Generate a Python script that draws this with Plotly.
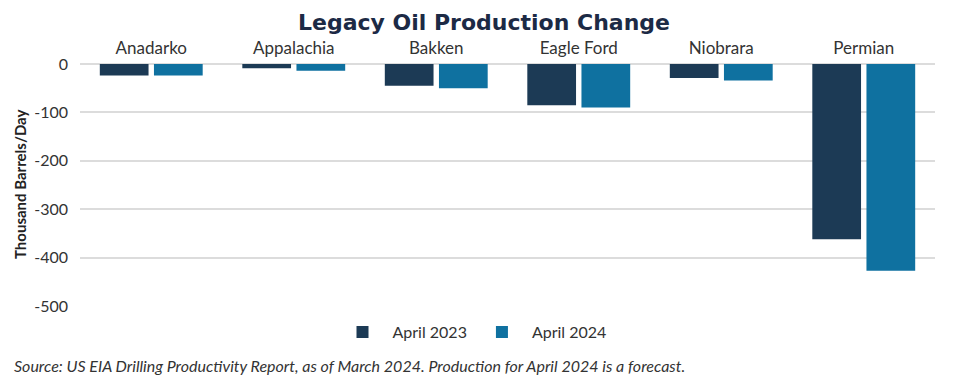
import plotly.graph_objects as go

basins = ["Anadarko", "Appalachia", "Bakken", "Eagle Ford", "Niobrara", "Permian"]
april_2023 = [-24, -9, -45, -85, -29, -362]
april_2024 = [-24, -14, -50, -90, -34, -427]
series_names = ["April 2023", "April 2024"]
y_ticks = [0, -100, -200, -300, -400, -500]

dark = "#1c3a55"
light = "#0f71a0"

fig = go.Figure()
fig.add_trace(go.Bar(x=basins, y=april_2023, name=series_names[0], marker=dict(color=dark, line=dict(width=0))))
fig.add_trace(go.Bar(x=basins, y=april_2024, name=series_names[1], marker=dict(color=light, line=dict(width=0))))

# page body has an 8px default margin; work in reference pixel coords minus 8
OFF = 8
W, H = 960 - OFF, 389 - OFF
L, T = 80 - OFF, 64 - OFF
R = W - (935 - OFF)
B = H - (306 - OFF)
pw = W - L - R
ph = H - T - B


def px_x(x):
    return (x - OFF - L) / pw


def px_y(y):
    return (T + ph - (y - OFF)) / ph


fig.update_layout(
    width=W, height=H,
    margin=dict(l=L, r=R, t=T, b=B, autoexpand=False),
    paper_bgcolor="white", plot_bgcolor="white",
    barmode="group", bargap=0.24, bargroupgap=0.1,
    font=dict(family="Lato, sans-serif", size=16, color="#333333"),
    title=dict(text="<b>Legacy Oil Production Change</b>", x=0.5, xanchor="center",
               y=1 - 14 / H, yanchor="middle", pad=dict(t=0, b=0),
               font=dict(family="DejaVu Sans, sans-serif", size=22, color="#1c2a45")),
    xaxis=dict(side="top", showgrid=False, showline=False, ticks="",
               ticklabelstandoff=6, tickfont=dict(size=17, color="#333333")),
    yaxis=dict(range=[-500, 0], tickvals=y_ticks, ticktext=[str(v) for v in y_ticks],
               showgrid=True, gridcolor="#dcdcdc", gridwidth=1.5,
               zeroline=True, zerolinecolor="#dcdcdc", zerolinewidth=1.5,
               showline=False, ticks="", ticklabelstandoff=11,
               tickfont=dict(size=16, color="#333333")),
    legend=dict(orientation="h", x=px_x(472), xanchor="center",
                y=px_y(332), yanchor="middle",
                font=dict(size=16, color="#333333"), itemwidth=50,
                traceorder="normal"),
    showlegend=True,
)

fig.add_annotation(text="<b>Thousand Barrels/Day</b>", textangle=-90,
                   xref="paper", yref="paper", x=px_x(20), y=px_y(184),
                   xanchor="center", yanchor="middle", showarrow=False,
                   font=dict(size=15, color="#222222"))

fig.add_annotation(text="<i>Source: US EIA Drilling Productivity Report, as of March 2024. Production for April 2024 is a forecast.</i>",
                   xref="paper", yref="paper", x=px_x(12), y=px_y(365),
                   xanchor="left", yanchor="middle", showarrow=False,
                   font=dict(size=16, color="#333333"))

fig.write_html("out.html")
